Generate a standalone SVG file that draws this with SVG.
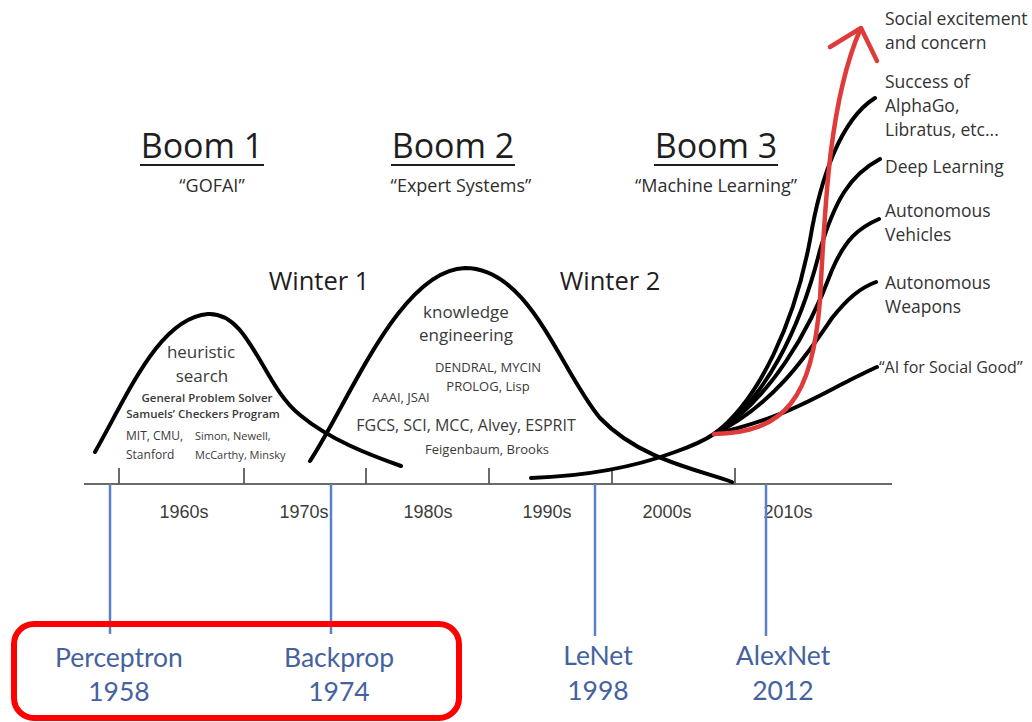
<svg xmlns="http://www.w3.org/2000/svg" width="1032" height="722" viewBox="0 0 1032 722">
  <style>
    .t { font-family: "Open Sans", "Noto Sans", sans-serif; fill: #3a3a3a; }
    .boom { font-family: "Open Sans", sans-serif; font-size: 34px; fill: #1e1e1e; text-anchor: middle; }
    .sub { font-family: "Open Sans", sans-serif; font-size: 18px; fill: #2e2e2e; text-anchor: middle; }
    .winter { font-family: "Open Sans", sans-serif; font-size: 25.5px; fill: #1e1e1e; text-anchor: middle; }
    .dec { font-family: "Liberation Sans", Arial, sans-serif; font-size: 18px; fill: #3c3c3c; text-anchor: middle; }
    .blue { font-family: Lato, "Open Sans", sans-serif; font-size: 26.5px; fill: #4562a0; text-anchor: middle; }
    .lbl { font-family: "Open Sans", sans-serif; font-size: 17.5px; fill: #333; }
    .lbl.small { font-size: 16px; }
    .curve { fill: none; stroke: #000; stroke-width: 4; stroke-linecap: round; }
    .axis { stroke: #6a6a6a; stroke-width: 2; }
    .tick { stroke: #5a5a5a; stroke-width: 1.8; }
    .vline { stroke: #5b80c6; stroke-width: 2.5; }
    .c { text-anchor: middle; }
  </style>

  <!-- timeline axis -->
  <g id="axis">
    <line class="axis" x1="84" y1="484" x2="892" y2="484"/>
    <line class="tick" x1="119" y1="468" x2="119" y2="484"/>
    <line class="tick" x1="244" y1="468" x2="244" y2="484"/>
    <line class="tick" x1="366" y1="468" x2="366" y2="484"/>
    <line class="tick" x1="489" y1="468" x2="489" y2="484"/>
    <line class="tick" x1="612" y1="468" x2="612" y2="484"/>
    <line class="tick" x1="735" y1="468" x2="735" y2="484"/>
    <text class="dec" x="184" y="518">1960s</text>
    <text class="dec" x="304" y="518">1970s</text>
    <text class="dec" x="428" y="518">1980s</text>
    <text class="dec" x="547" y="518">1990s</text>
    <text class="dec" x="667" y="518">2000s</text>
    <text class="dec" x="788" y="518">2010s</text>
  </g>

  <!-- headings -->
  <g id="boom1">
    <text class="boom" x="202" y="158">Boom 1</text>
    <line x1="140" y1="165" x2="264" y2="165" stroke="#1e1e1e" stroke-width="2"/>
    <text class="sub" x="212" y="192">“GOFAI”</text>
  </g>
  <g id="boom2">
    <text class="boom" x="453" y="158">Boom 2</text>
    <line x1="391" y1="165" x2="515" y2="165" stroke="#1e1e1e" stroke-width="2"/>
    <text class="sub" x="461" y="192">“Expert Systems”</text>
  </g>
  <g id="boom3">
    <text class="boom" x="716" y="158">Boom 3</text>
    <line x1="654" y1="165" x2="778" y2="165" stroke="#1e1e1e" stroke-width="2"/>
    <text class="sub" x="716" y="192">“Machine Learning”</text>
  </g>
  <g id="winter1"><text class="winter" x="319" y="290">Winter 1</text></g>
  <g id="winter2"><text class="winter" x="610" y="290">Winter 2</text></g>

  <!-- hype curves -->
  <g id="curves">
    <path class="curve" d="M95,452 C130,390 160,318 208,314 C250,312 262,385 300,415 C330,440 370,455 401,466"/>
    <path class="curve" d="M310,461 C350,400 400,270 465,268 C530,268 560,370 600,418 C640,460 700,470 732,482"/>
    <path class="curve" d="M531,478 C590,476 640,465 675,452 C695,445 705,440 714,434"/>
    <path class="curve" d="M714,434 C760,400 795,320 810,240 C820,180 840,120 875,98"/>
    <path class="curve" d="M714,434 C765,400 800,330 820,250 C835,200 850,175 880,159"/>
    <path class="curve" d="M714,434 C770,400 810,330 832,270 C845,240 858,228 879,219"/>
    <path class="curve" d="M714,434 C775,405 810,350 832,318 C848,298 860,288 876,282"/>
    <path class="curve" d="M714,434 C780,420 820,395 850,380 C862,374 870,370 877,367"/>
    <!-- rising path with open arrowhead -->
    <path d="M714,434 C785,432 812,400 820,300 C825,200 830,100 860,30" fill="none" stroke="#e03b3b" stroke-width="4.5" stroke-linecap="round"/>
    <path d="M830,47 L861,28 L877,61" fill="none" stroke="#e03b3b" stroke-width="4.5" stroke-linecap="round" stroke-linejoin="round"/>
  </g>

  <!-- Boom 1 contents -->
  <g id="boom1-notes">
    <text class="t c" x="201" y="358" font-size="17">heuristic</text>
    <text class="t c" x="202" y="382" font-size="17">search</text>
    <text class="t c" x="207" y="402" font-size="11.5" font-weight="600">General Problem Solver</text>
    <text class="t c" x="203" y="418" font-size="11.5" font-weight="600">Samuels’ Checkers Program</text>
    <text class="t" x="126" y="440" font-size="12">MIT, CMU,</text>
    <text class="t" x="126" y="459" font-size="12">Stanford</text>
    <text class="t" x="195" y="440" font-size="11">Simon, Newell,</text>
    <text class="t" x="195" y="459" font-size="11">McCarthy, Minsky</text>
  </g>

  <!-- Boom 2 contents -->
  <g id="boom2-notes">
    <text class="t c" x="466" y="318" font-size="17">knowledge</text>
    <text class="t c" x="466" y="341" font-size="17">engineering</text>
    <text class="t c" x="488" y="372" font-size="13">DENDRAL, MYCIN</text>
    <text class="t c" x="488" y="391" font-size="13">PROLOG, Lisp</text>
    <text class="t c" x="401" y="402" font-size="13">AAAI, JSAI</text>
    <text class="t c" x="466" y="431" font-size="16">FGCS, SCI, MCC, Alvey, ESPRIT</text>
    <text class="t c" x="487" y="454" font-size="13">Feigenbaum, Brooks</text>
  </g>

  <!-- outcome labels -->
  <g id="outcomes">
    <text class="lbl" x="885" y="25">Social excitement</text>
    <text class="lbl" x="885" y="49">and concern</text>
    <text class="lbl" x="885" y="88">Success of</text>
    <text class="lbl" x="885" y="112">AlphaGo,</text>
    <text class="lbl" x="885" y="136">Libratus, etc...</text>
    <text class="lbl" x="885" y="173">Deep Learning</text>
    <text class="lbl" x="885" y="217">Autonomous</text>
    <text class="lbl" x="885" y="241">Vehicles</text>
    <text class="lbl" x="885" y="289">Autonomous</text>
    <text class="lbl" x="885" y="313">Weapons</text>
    <text class="lbl small" x="879" y="373">“AI for Social Good”</text>
  </g>

  <!-- milestones -->
  <g id="perceptron">
    <line class="vline" x1="110" y1="484" x2="110" y2="634"/>
    <text class="blue" x="119" y="667">Perceptron</text>
    <text class="blue" x="119" y="701">1958</text>
  </g>
  <g id="backprop">
    <line class="vline" x1="331" y1="484" x2="331" y2="634"/>
    <text class="blue" x="339" y="667">Backprop</text>
    <text class="blue" x="339" y="701">1974</text>
  </g>
  <g id="lenet">
    <line class="vline" x1="595" y1="484" x2="595" y2="636"/>
    <text class="blue" x="598" y="665">LeNet</text>
    <text class="blue" x="598" y="700">1998</text>
  </g>
  <g id="alexnet">
    <line class="vline" x1="766" y1="484" x2="766" y2="636"/>
    <text class="blue" x="783" y="665">AlexNet</text>
    <text class="blue" x="783" y="700">2012</text>
  </g>

  <!-- highlight frame -->
  <g id="highlight">
    <rect x="14" y="624" width="445" height="94" rx="20" fill="none" stroke="#ff0000" stroke-width="6"/>
  </g>
</svg>
